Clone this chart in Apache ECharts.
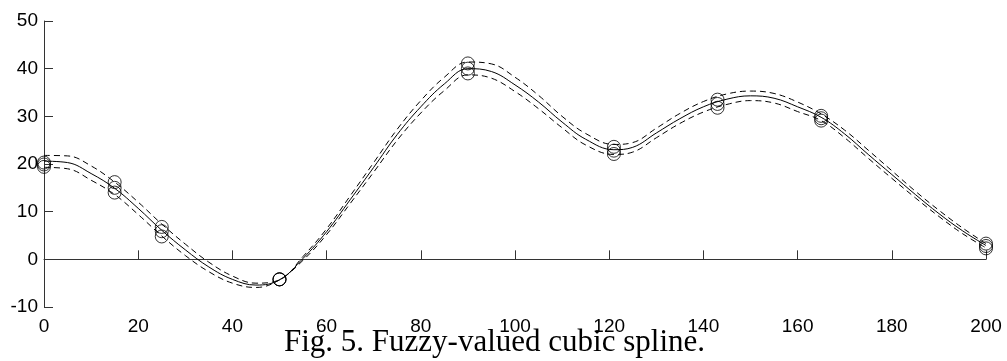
<!DOCTYPE html>
<html>
<head>
<meta charset="utf-8">
<script src="https://cdn.jsdelivr.net/npm/echarts@6/dist/echarts.min.js"></script>
<style>
html,body{margin:0;padding:0;background:#fff;}
#chart{width:1007px;height:361px;}
</style>
</head>
<body>
<div id="chart"></div>
<script>
// Knot data (fuzzy values: lower, middle, upper)
const knotX    = [0, 15, 25, 50, 90, 121, 143, 165, 200];
const knotLow  = [19.4, 14.0, 4.8, -4.2, 39.0, 22.1, 31.8, 29.1, 2.3];
const knotMid  = [19.9, 15.0, 5.9, -4.2, 40.0, 22.8, 32.6, 29.6, 2.8];
const knotHigh = [20.3, 16.2, 6.8, -4.2, 41.1, 23.6, 33.5, 30.1, 3.3];

// Spline curves
const curveX = [0, 5, 10, 15, 20, 25, 30, 35, 40, 45, 50, 55, 60, 65, 70, 75, 80, 85, 90, 95, 100,
                105, 110, 115, 121, 125, 130, 135, 140, 145, 150, 155, 160, 165, 170, 175, 180, 185, 190, 195, 200];
const curveMid = [20.6, 20.3, 18.0, 14.9, 10.7, 6.1, 2.0, -1.6, -4.2, -5.4, -4.3, 0.2, 5.8, 12.5, 19.3, 26.2, 32.0, 36.8, 40.0, 39.4, 36.6,
                  33.0, 28.8, 25.2, 23.0, 23.5, 26.5, 29.5, 32.0, 33.6, 34.3, 33.8, 32.0, 29.8, 26.3, 22.0, 17.8, 13.6, 9.6, 6.0, 2.9];
const curveUp  = [21.8, 21.7, 19.6, 16.2, 12.0, 7.4, 3.2, -0.6, -3.5, -5.0, -4.3, 0.6, 6.4, 13.3, 20.3, 27.3, 33.3, 38.2, 41.4, 41.0, 38.2,
                  34.4, 30.0, 26.4, 24.1, 24.5, 27.5, 30.6, 33.1, 34.7, 35.3, 34.8, 33.0, 30.5, 27.1, 22.9, 18.6, 14.3, 10.3, 6.6, 3.3];
const curveLow = [19.3, 19.0, 16.6, 13.6, 9.4, 4.9, 0.8, -2.6, -5.0, -5.9, -4.3, -0.2, 5.2, 11.7, 18.3, 25.0, 30.7, 35.4, 38.7, 38.0, 35.2,
                  31.6, 27.6, 24.0, 22.0, 22.5, 25.5, 28.5, 30.9, 32.5, 33.3, 32.8, 31.0, 29.1, 25.5, 21.2, 17.0, 12.9, 9.0, 5.4, 2.4];

const caption = 'Fig. 5. Fuzzy-valued cubic spline.';

const pairs = (xs, ys) => xs.map((x, i) => [x, ys[i]]);
const knotPts = [];
knotX.forEach((x, i) => { knotPts.push([x, knotLow[i]], [x, knotMid[i]], [x, knotHigh[i]]); });

const chart = echarts.init(document.getElementById('chart'), null, {renderer: 'canvas'});
const axisCol = '#333';
const labelFont = {fontFamily: 'Liberation Sans, Arial, sans-serif', fontSize: 19, color: '#000'};
chart.setOption({
  animation: false,
  backgroundColor: '#fff',
  title: {
    text: caption,
    left: 284, top: 327,
    padding: 0,
    textStyle: {fontFamily: 'Liberation Serif, serif', fontSize: 31, fontWeight: 'normal', color: '#000'}
  },
  grid: {left: 44, right: 21, top: 21, bottom: 54, containLabel: false},
  xAxis: {
    type: 'value', min: 0, max: 200, interval: 20,
    axisLine: {show: true, lineStyle: {color: axisCol, width: 1}},
    axisTick: {show: true, inside: true, length: 9, lineStyle: {color: axisCol}},
    axisLabel: Object.assign({margin: 10}, labelFont),
    splitLine: {show: false}
  },
  yAxis: {
    type: 'value', min: -10, max: 50, interval: 10,
    axisLine: {show: true, lineStyle: {color: axisCol, width: 1}},
    axisTick: {show: true, inside: true, length: 9, lineStyle: {color: axisCol}},
    axisLabel: Object.assign({margin: 6}, labelFont),
    splitLine: {show: false}
  },
  series: [
    {type: 'line', data: pairs(curveX, curveUp), smooth: 0.4, showSymbol: false,
     lineStyle: {color: '#000', width: 1, type: [6, 4]}},
    {type: 'line', data: pairs(curveX, curveLow), smooth: 0.4, showSymbol: false,
     lineStyle: {color: '#000', width: 1, type: [6, 4]}},
    {type: 'line', data: pairs(curveX, curveMid), smooth: 0.4, showSymbol: false,
     lineStyle: {color: '#000', width: 1}},
    {type: 'scatter', data: knotPts, symbol: 'circle', symbolSize: 13,
     itemStyle: {color: 'rgba(0,0,0,0)', borderColor: '#000', borderWidth: 1}}
  ]
});
</script>
</body>
</html>
